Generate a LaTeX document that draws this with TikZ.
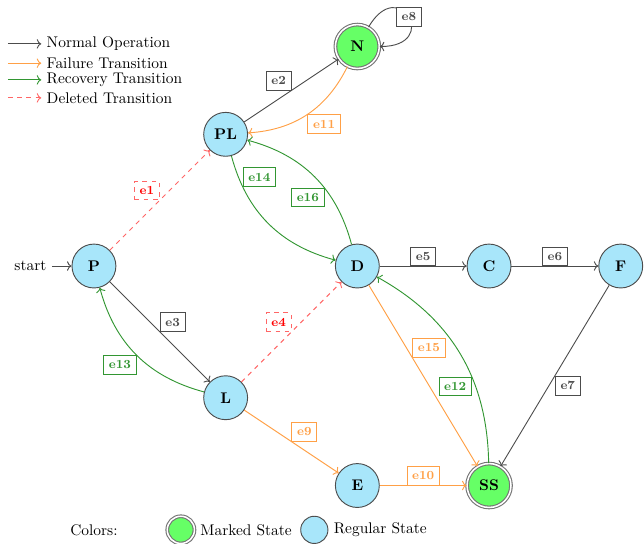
\documentclass[tikz,border=0pt]{standalone}
\usepackage{tikz}
\usetikzlibrary{positioning, arrows.meta}

\definecolor{regularblue}{RGB}{168,230,250}
\definecolor{markedgreen}{RGB}{102,255,102}
\definecolor{failureorange}{RGB}{255,160,70}
\definecolor{recoverygreen}{RGB}{50,150,50}

\begin{document}
\begin{tikzpicture}
    [regularnode/.style={circle, draw=black!70, semithick, fill=regularblue, minimum size=1cm, inner sep=0pt, on grid, font=\bfseries},
    markednode/.style={circle, draw=black!55, line width=0.7pt, double, double distance=1pt, fill=markedgreen, minimum size=1cm, inner sep=0pt, on grid, font=\bfseries},
    normalline/.style={->, semithick, black!70},
    failureline/.style={->, semithick, failureorange},
    recoveryline/.style={->, semithick, recoverygreen},
    deletedline/.style={->, semithick, red!60, dashed},
    normallabel/.style={rectangle, draw=black!70, semithick, fill=white, font=\footnotesize\bfseries},
    failurelabel/.style={normallabel, draw=failureorange, text=failureorange},
    recoverylabel/.style={normallabel, draw=recoverygreen, text=recoverygreen},
    deletedlabel/.style={normallabel, draw=red!60, dashed, text=red},
    auto]

    \useasboundingbox (-2.14,-6.33) rectangle (12.53,6.06);

    %Nodes
    \node[regularnode](P){P};
    \node[regularnode](PL)[above right=3cm and 3cm of P]{PL};
    \node[markednode](N)[above right=2cm and 3cm of PL]{N};
    \node[regularnode](D)[below right=3cm and 3cm of PL]{D};
    \node[regularnode](C)[right=3cm of D]{C};
    \node[regularnode](F)[right=3cm of C]{F};
    \node[regularnode](L)[below right=3cm and 3cm of P]{L};
    \node[regularnode](E)[below right=2cm and 3cm of L]{E};
    \node[markednode](SS)[right=3cm of E]{SS};
    \node(start)[left=0.45cm of P]{start};

    %Lines
    \draw[normalline](start) -- (P);
    \draw[deletedline](P) -- node[deletedlabel]{e1} (PL);
    \draw[normalline](PL) -- node[normallabel]{e2} (N);
    \draw[normalline](P) -- node[normallabel]{e3} (L);
    \draw[deletedline](L) -- node[deletedlabel]{e4} (D);
    \draw[normalline](D) -- node[normallabel]{e5} (C);
    \draw[normalline](C) -- node[normallabel]{e6} (F);
    \draw[normalline](F) -- node[normallabel]{e7} (SS);
    \draw[normalline](N) to[out=60, in=0, loop, looseness=7] node[normallabel, auto=false]{e8} (N);
    \draw[failureline](L) -- node[failurelabel]{e9} (E);
    \draw[failureline](E) -- node[failurelabel]{e10} (SS);
    \draw[failureline](N) to[bend left] node[failurelabel]{e11} (PL);
    \draw[recoveryline](SS) to[bend right] node[recoverylabel, pos=0.38]{e12} (D);
    \draw[recoveryline](L) to[bend left] node[recoverylabel]{e13} (P);
    \draw[recoveryline](PL) to[bend right] node[recoverylabel, pos=0.2]{e14} (D);
    \draw[failureline](D) -- node[failurelabel, pos=0.4]{e15} (SS);
    \draw[recoveryline](D) to[bend right] node[recoverylabel, pos=0.4]{e16} (PL);

    %Legend
    \node[anchor=west](normaltext) at (-1.2,5.06){Normal Operation};
    \node[anchor=west](failuretext) at (-1.2,4.62){Failure Transition};
    \node[anchor=west](recoverytext) at (-1.2,4.24){Recovery Transition};
    \node[anchor=west](deletedtext) at (-1.2,3.83){Deleted Transition};
    \coordinate(normalstart) at (-1.96,5.06);
    \coordinate(failurestart) at (-1.96,4.62);
    \coordinate(recoverystart) at (-1.96,4.24);
    \coordinate(deletedstart) at (-1.96,3.83);
    \draw[normalline](normalstart) -- (normaltext.west);
    \draw[failureline](failurestart) -- (failuretext.west);
    \draw[recoveryline](recoverystart) -- (recoverytext.west);
    \draw[deletedline](deletedstart) -- (deletedtext.west);

    \node(colors) at (0,-6.01){Colors:};
    \node[markednode, minimum size=0.62cm](markedkey) at (1.98,-6.01){};
    \node(markedtext)[right=0pt of markedkey]{Marked State};
    \node[regularnode, minimum size=0.62cm](regularkey) at (5.02,-6.01){};
    \node(regulartext)[right=0pt of regularkey]{Regular State};

\end{tikzpicture}
\end{document}
